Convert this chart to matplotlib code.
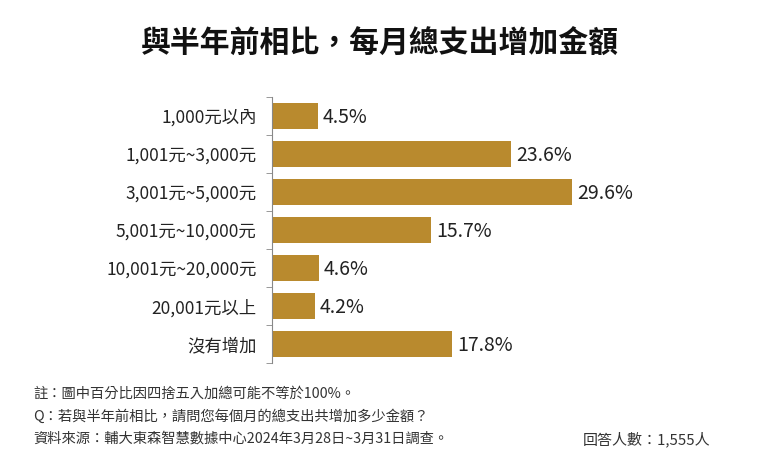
import matplotlib
matplotlib.use("Agg")
import matplotlib.pyplot as plt
import numpy as np

plt.rcParams["font.family"] = ["Noto Sans CJK TC", "DejaVu Sans"]

categories = ["1,000元以內", "1,001元~3,000元", "3,001元~5,000元",
              "5,001元~10,000元", "10,001元~20,000元", "20,001元以上", "沒有增加"]
values = [4.5, 23.6, 29.6, 15.7, 4.6, 4.2, 17.8]

title = "與半年前相比，每月總支出增加金額"
notes = ["註：圖中百分比因四捨五入加總可能不等於100%。",
         "Q：若與半年前相比，請問您每個月的總支出共增加多少金額？",
         "資料來源：輔大東森智慧數據中心2024年3月28日~3月31日調查。"]
respondents = "回答人數：1,555人"

bar_color = "#B98A2E"

fig = plt.figure(figsize=(7.6, 4.7), dpi=100)
ax = fig.add_axes([272/760, 107/470, 428/760, 266/470])

y = np.arange(len(categories))
ax.barh(y, values, height=0.68, color=bar_color)
for yi, v in zip(y, values):
    ax.text(v + 0.5, yi + 0.04, f"{v}%", va="center", ha="left", fontsize=14, color="#222222")

ax.set_xlim(0, 428/10.14)
ax.set_ylim(len(categories) - 0.5, -0.5)
ax.set_yticks(y)
ax.set_yticklabels(categories, fontsize=12.5, color="#222222")
ax.set_yticks(np.arange(-0.5, len(categories), 1), minor=True)
ax.tick_params(axis="y", which="major", length=0, pad=11)
ax.tick_params(axis="y", which="minor", length=4, color="#888888", direction="out")
ax.set_xticks([])
for s in ["top", "right", "bottom"]:
    ax.spines[s].set_visible(False)
ax.spines["left"].set_color("#888888")

fig.text(0.5, 1 - 44/470, title, ha="center", va="center", fontsize=21.5, fontweight="bold", color="#111111")

for i, line in enumerate(notes):
    fig.text(33/760, 1 - (394 + 22.5*i)/470, line, ha="left", va="center", fontsize=10.3, color="#333333")
fig.text(583/760, 1 - 439/470, respondents, ha="left", va="center", fontsize=10.8, color="#333333")

fig.savefig("out.png", dpi=100)
